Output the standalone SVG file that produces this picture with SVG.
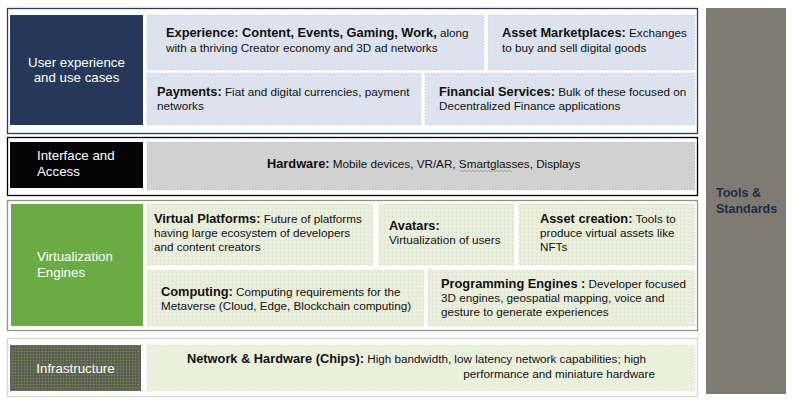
<svg xmlns="http://www.w3.org/2000/svg" width="795" height="404" viewBox="0 0 795 404">
  <defs>
    <style>
      text { font-family: "Liberation Sans", Arial, sans-serif; font-size: 11.7px; fill: #111; }
      .b { font-weight: bold; font-size: 12.8px; }
      .lbl { fill: #ffffff; font-size: 13.3px; }
      .side { fill: #1e2b47; font-weight: bold; font-size: 12.5px; }
      .frame { fill: #ffffff; stroke-width: 1.3; }
      .cellBlue { fill: #dce3ee; stroke: #c3cad6; stroke-width: 0.8; stroke-dasharray: 1 2; }
      .cellGray { fill: url(#dotsGray); stroke: #bcbcbc; stroke-width: 0.8; stroke-dasharray: 1 2; }
      .cellGreen { fill: url(#dotsGreen); stroke: #cfd6c0; stroke-width: 0.8; stroke-dasharray: 1 2; }
      .cellPale { fill: #ebf0dd; stroke: #d2d8c5; stroke-width: 0.8; stroke-dasharray: 1 2; }
    </style>
    <pattern id="dotsGray" width="4" height="4" patternUnits="userSpaceOnUse">
      <rect width="4" height="4" fill="#d0d0d0"/>
      <rect x="0" y="0" width="1" height="1" fill="#dcdcdc"/>
      <rect x="2" y="2" width="1" height="1" fill="#d8d8d8"/>
    </pattern>
    <pattern id="dotsGreen" width="4" height="4" patternUnits="userSpaceOnUse">
      <rect width="4" height="4" fill="#e9eedb"/>
      <rect x="0" y="0" width="1" height="1" fill="#d9dfc9"/>
      <rect x="2" y="2" width="1" height="1" fill="#f3f5ea"/>
    </pattern>
    <pattern id="dotsInfra" width="3" height="3" patternUnits="userSpaceOnUse">
      <rect width="3" height="3" fill="#66665a"/>
      <rect x="0" y="0" width="1" height="1" fill="#5d9a3a"/>
      <rect x="1.5" y="1.5" width="1" height="1" fill="#3f3f36"/>
    </pattern>
  </defs>

  <!-- Tools & Standards column -->
  <g id="tools">
    <rect x="706" y="8" width="80" height="386" fill="#7f7b72"/>
    <text class="side" x="716" y="197">Tools &amp;</text>
    <text class="side" x="716" y="213">Standards</text>
  </g>

  <!-- Layer 1: user experience -->
  <g id="layer-experience">
    <rect class="frame" x="7.5" y="8.5" width="690" height="125" stroke="#2b3d5e"/>
    <rect x="10" y="15" width="133" height="110" fill="#263959"/>
    <text class="lbl" x="76.5" y="67" text-anchor="middle">User experience</text>
    <text class="lbl" x="76.5" y="82" text-anchor="middle">and use cases</text>
  </g>
  <g id="experience">
    <rect class="cellBlue" x="147" y="15" width="337" height="55"/>
    <text x="166" y="37"><tspan class="b">Experience: Content, Events, Gaming, Work,</tspan> along</text>
    <text x="166" y="52">with a thriving Creator economy and 3D ad networks</text>
  </g>
  <g id="asset-marketplaces">
    <rect class="cellBlue" x="488" y="15" width="207" height="55"/>
    <text x="502" y="37"><tspan class="b">Asset Marketplaces:</tspan> Exchanges</text>
    <text x="502" y="52">to buy and sell digital goods</text>
  </g>
  <g id="payments">
    <rect class="cellBlue" x="147" y="73" width="274" height="52"/>
    <text x="157" y="96"><tspan class="b">Payments:</tspan> Fiat and digital currencies, payment</text>
    <text x="157" y="110">networks</text>
  </g>
  <g id="financial-services">
    <rect class="cellBlue" x="425" y="73" width="270" height="52"/>
    <text x="439" y="96"><tspan class="b">Financial Services:</tspan> Bulk of these focused on</text>
    <text x="439" y="110">Decentralized Finance applications</text>
  </g>

  <!-- Layer 2: interface and access -->
  <g id="layer-interface">
    <rect class="frame" x="7.5" y="137.5" width="690" height="58" stroke="#000000"/>
    <rect x="10" y="142" width="133" height="46" fill="#050505"/>
    <text class="lbl" x="37" y="160">Interface and</text>
    <text class="lbl" x="37" y="176">Access</text>
  </g>
  <g id="hardware">
    <rect class="cellGray" x="147" y="142" width="548" height="48"/>
    <text x="267" y="168"><tspan class="b">Hardware:</tspan> Mobile devices, VR/AR, Smartglasses, Displays</text>
    <!-- spell-check squiggle under "Smartglasses" -->
    <path d="M460 171 q1 -1.5 2 0 t2 0 t2 0 t2 0 t2 0 t2 0 t2 0 t2 0 t2 0 t2 0 t2 0 t2 0 t2 0 t2 0 t2 0 t2 0 t2 0 t2 0 t2 0 t2 0 t2 0 t2 0 t2 0 t2 0 t2 0 t2 0" fill="none" stroke="#9c9c7a" stroke-width="0.8"/>
  </g>

  <!-- Layer 3: virtualization engines -->
  <g id="layer-virtualization">
    <rect class="frame" x="7.5" y="200.5" width="690" height="130" stroke="#8c977c"/>
    <rect x="11" y="204" width="132" height="122" fill="#6aab46"/>
    <text class="lbl" x="37" y="261" fill="#eef3e8">Virtualization</text>
    <text class="lbl" x="37" y="277">Engines</text>
  </g>
  <g id="virtual-platforms">
    <rect class="cellGreen" x="147" y="204" width="226" height="61"/>
    <text x="154" y="223"><tspan class="b">Virtual Platforms:</tspan> Future of platforms</text>
    <text x="154" y="237">having large ecosystem of developers</text>
    <text x="154" y="251">and content creators</text>
  </g>
  <g id="avatars">
    <rect class="cellGreen" x="379" y="204" width="135" height="61"/>
    <text class="b" x="389" y="230">Avatars:</text>
    <text x="389" y="244">Virtualization of users</text>
  </g>
  <g id="asset-creation">
    <rect class="cellGreen" x="519" y="204" width="176" height="61"/>
    <text x="540" y="223"><tspan class="b">Asset creation:</tspan> Tools to</text>
    <text x="540" y="237">produce virtual assets like</text>
    <text x="540" y="251">NFTs</text>
  </g>
  <g id="computing">
    <rect class="cellGreen" x="147" y="270" width="277" height="56"/>
    <text x="161" y="296"><tspan class="b">Computing:</tspan> Computing requirements for the</text>
    <text x="161" y="310">Metaverse (Cloud, Edge, Blockchain computing)</text>
  </g>
  <g id="programming-engines">
    <rect class="cellGreen" x="428" y="270" width="267" height="56"/>
    <text x="441" y="288"><tspan class="b">Programming Engines :</tspan> Developer focused</text>
    <text x="441" y="302">3D engines, geospatial mapping, voice and</text>
    <text x="441" y="316">gesture to generate experiences</text>
  </g>

  <!-- Layer 4: infrastructure -->
  <g id="layer-infrastructure">
    <rect class="frame" x="7.5" y="338.5" width="690" height="58" stroke="#d3d9c9"/>
    <rect x="10" y="345" width="131" height="46" fill="url(#dotsInfra)"/>
    <text class="lbl" x="75.5" y="373" text-anchor="middle" fill="#e6e6e0">Infrastructure</text>
  </g>
  <g id="network-hardware">
    <rect class="cellPale" x="147" y="345" width="548" height="46"/>
    <text x="187" y="363"><tspan class="b">Network &amp; Hardware (Chips):</tspan> High bandwidth, low latency network capabilities; high</text>
    <text x="655" y="378" text-anchor="end">performance and miniature hardware</text>
  </g>
</svg>
